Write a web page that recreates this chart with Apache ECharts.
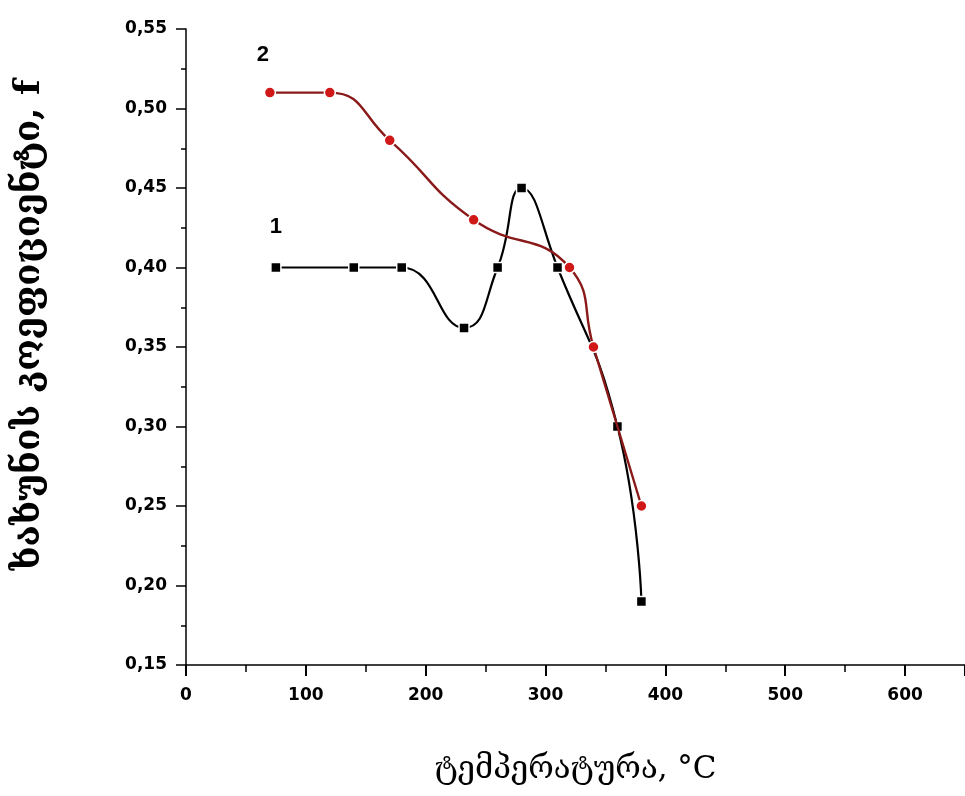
<!DOCTYPE html>
<html>
<head>
<meta charset="utf-8">
<script src="https://cdn.jsdelivr.net/npm/echarts@6/dist/echarts.min.js"></script>
<style>
html,body{margin:0;padding:0;background:#fff;}
#chart{width:965px;height:796px;}
</style>
</head>
<body>
<div id="chart"></div>
<script>
// Curve 1 (black squares)
const temp1 = [75, 140, 180, 232, 260, 280, 310, 360, 380];
const fric1 = [0.40, 0.40, 0.40, 0.362, 0.40, 0.45, 0.40, 0.30, 0.19];
// Curve 2 (red circles)
const temp2 = [70, 120, 170, 240, 320, 340, 380];
const fric2 = [0.51, 0.51, 0.48, 0.43, 0.40, 0.35, 0.25];
const curveNames = ['1', '2'];
const xTitle = 'ტემპერატურა, °C';
const yTitle = 'ხახუნის კოეფიციენტი, f';

function pts(xs, ys, name, lblDist, lblOff) {
  return xs.map((x, i) => {
    const p = { value: [x, ys[i]] };
    if (i === 0) {
      p.label = {
        show: true, formatter: name, position: 'top',
        distance: lblDist, offset: lblOff,
        fontFamily: 'Liberation Sans, Arial, sans-serif',
        fontWeight: 'bold', fontSize: 22, color: '#000'
      };
    }
    return p;
  });
}

const chart = echarts.init(document.getElementById('chart'), null, { renderer: 'canvas' });
const tickFont = { fontFamily: 'DejaVu Sans, sans-serif', fontWeight: 'bold', fontSize: 17, color: '#000' };
chart.setOption({
  animation: false,
  backgroundColor: '#fff',
  grid: { left: 186, top: 29, width: 780, height: 636, containLabel: false },
  xAxis: {
    type: 'value', min: 0, max: 650, interval: 100,
    name: xTitle, nameLocation: 'middle', nameGap: 89,
    nameTextStyle: { fontFamily: 'DejaVu Serif, DejaVu Sans, serif', fontSize: 31, color: '#000' },
    axisLine: { lineStyle: { color: '#000', width: 1.5 } },
    axisTick: { length: 11, lineStyle: { color: '#000', width: 2 } },
    minorTick: { show: true, splitNumber: 2, length: 7, lineStyle: { color: '#000', width: 1.5 } },
    axisLabel: Object.assign({ margin: 22, showMaxLabel: false }, tickFont),
    splitLine: { show: false }
  },
  yAxis: {
    type: 'value', min: 0.15, max: 0.55, interval: 0.05,
    name: yTitle, nameLocation: 'middle', nameGap: 138, nameRotate: 90,
    nameTextStyle: { fontFamily: 'DejaVu Serif, DejaVu Sans, serif', fontWeight: 'bold', fontSize: 36, color: '#000', padding: [0, 0, 0, 44] },
    axisLine: { show: true, lineStyle: { color: '#000', width: 1.5 } },
    axisTick: { show: true, length: 10, lineStyle: { color: '#000', width: 1.5 } },
    minorTick: { show: true, splitNumber: 2, length: 5, lineStyle: { color: '#000', width: 1.5 } },
    axisLabel: Object.assign({ margin: 19, formatter: v => v.toFixed(2).replace('.', ',') }, tickFont),
    splitLine: { show: false }
  },
  series: [
    {
      type: 'line', name: curveNames[0], smooth: 0.5,
      data: pts(temp1, fric1, curveNames[0], 24, [0, 0]),
      symbol: 'rect', symbolSize: 10,
      lineStyle: { color: '#000', width: 2.2 },
      itemStyle: { color: '#000', borderColor: '#fff', borderWidth: 1.5 },
      z: 2
    },
    {
      type: 'line', name: curveNames[1], smooth: 0.5,
      data: pts(temp2, fric2, curveNames[1], 20, [-7, 0]),
      symbol: 'circle', symbolSize: 11,
      lineStyle: { color: '#8a1a1a', width: 2.4 },
      itemStyle: { color: '#d01818', borderColor: '#fff', borderWidth: 1.5 },
      z: 3
    }
  ]
});
</script>
</body>
</html>
